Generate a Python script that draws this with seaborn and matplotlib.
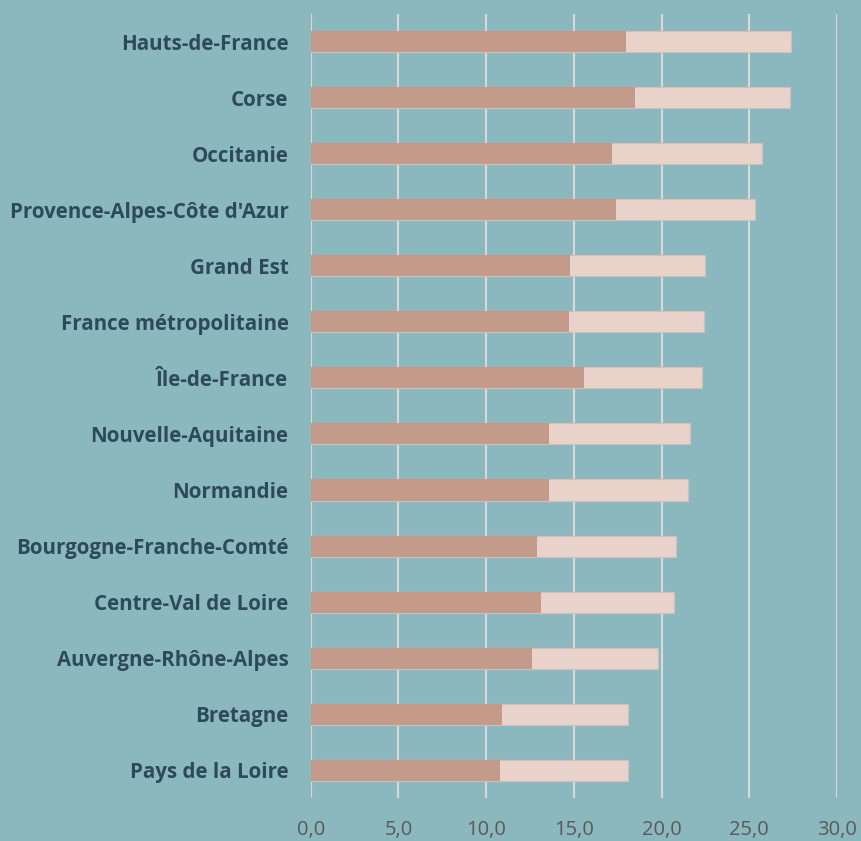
import seaborn as sns
import matplotlib.pyplot as plt
from matplotlib.ticker import FuncFormatter

regions = ["Hauts-de-France", "Corse", "Occitanie", "Provence-Alpes-Côte d'Azur",
           "Grand Est", "France métropolitaine", "Île-de-France", "Nouvelle-Aquitaine",
           "Normandie", "Bourgogne-Franche-Comté", "Centre-Val de Loire",
           "Auvergne-Rhône-Alpes", "Bretagne", "Pays de la Loire"]
part = [18.0, 18.5, 17.2, 17.4, 14.8, 14.7, 15.6, 13.6, 13.6, 12.9, 13.1, 12.6, 10.9, 10.8]
total = [27.4, 27.3, 25.7, 25.3, 22.5, 22.4, 22.3, 21.6, 21.5, 20.8, 20.7, 19.8, 18.1, 18.1]

bg = "#8BB8BE"
sns.set_style("white")
plt.rcParams['font.family'] = ['Open Sans', 'DejaVu Sans']

fig = plt.figure(figsize=(8.61, 8.41), dpi=100, facecolor=bg)
ax = fig.add_axes([0.3609, 0.0511, 0.6112, 0.9323])
ax.set_facecolor(bg)

sns.barplot(x=total, y=regions, orient="h", color="#E8D2CA", saturation=1,
            width=0.375, edgecolor="#D3BFB8", linewidth=0.8, ax=ax, zorder=3)
sns.barplot(x=part, y=regions, orient="h", color="#C49A8A", saturation=1,
            width=0.375, linewidth=0, ax=ax, zorder=4)

ax.set_xlim(0, 30)
ax.set_ylim(13.5, -0.5)
ax.set_xticks(range(0, 31, 5))
ax.xaxis.set_major_formatter(FuncFormatter(lambda v, p: f"{v:.1f}".replace(".", ",")))
ax.grid(axis="x", color="#D9D9D9", linewidth=1.5, zorder=0)
ax.set_axisbelow(True)
for s in ax.spines.values():
    s.set_visible(False)
ax.set_xlabel("")
ax.set_ylabel("")
ax.tick_params(axis="y", length=0, pad=16, labelsize=14.8, labelcolor="#2E4A5A")
ax.tick_params(axis="x", length=0, pad=16, labelsize=14.5, labelcolor="#595959")
for t in ax.get_yticklabels():
    t.set_fontweight("bold")

fig.savefig("out.png", dpi=100, facecolor=bg)
